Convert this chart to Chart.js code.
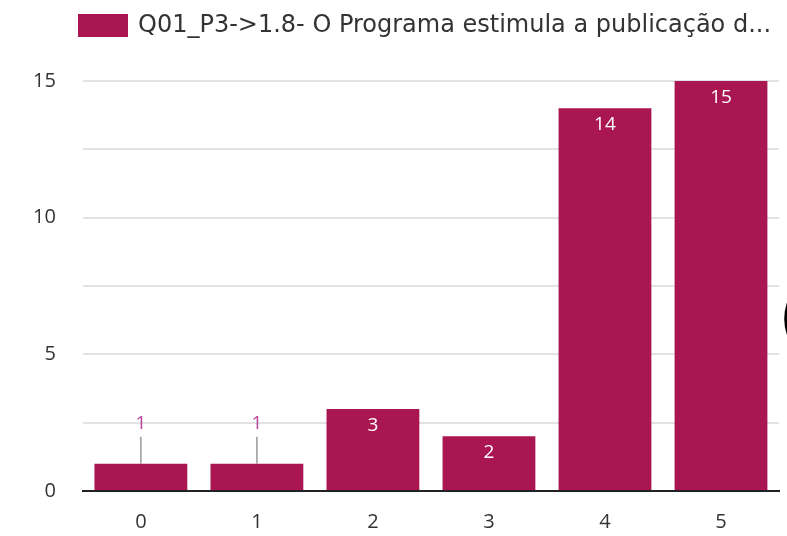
<!DOCTYPE html>
<html lang="pt">
<head>
<meta charset="UTF-8">
<title>Q01_P3 1.8</title>
<script src="https://cdn.jsdelivr.net/npm/chart.js"></script>
<style>
  html, body { margin: 0; padding: 0; background: #fff; overflow: hidden; }
  #wrap { position: relative; width: 787px; height: 536px; }
  #edge { position: absolute; left: 778px; top: 280px; font: 72px "DejaVu Sans"; color: #000; line-height: 1; }
</style>
</head>
<body>
<div id="wrap">
  <canvas id="chart" width="787" height="536"></canvas>
  <div id="edge">(</div>
</div>
<script>
// categories and values
const categories = ['0', '1', '2', '3', '4', '5'];
const counts = [1, 1, 3, 2, 14, 15];
const seriesLabel = 'Q01_P3->1.8- O Programa estimula a publicação d...';
const yTickLabels = [0, 5, 10, 15];

const barColor = '#AA1651';
const fontFamily = '"Open Sans", sans-serif';

// legend drawn at the left, lined up with the plot
const topLegend = {
  id: 'topLegend',
  afterDraw(chart) {
    const ctx = chart.ctx;
    const ds = chart.data.datasets[0];
    ctx.save();
    ctx.fillStyle = ds.backgroundColor;
    ctx.fillRect(78, 14, 50, 23);
    ctx.fillStyle = '#333';
    ctx.font = '24px "DejaVu Sans", sans-serif';
    ctx.textAlign = 'left';
    ctx.textBaseline = 'middle';
    ctx.fillText(ds.label, 138, 26);
    ctx.restore();
  }
};

// value labels: inside the bar when it is tall enough, above with a leader line otherwise
const valueLabels = {
  id: 'valueLabels',
  afterDatasetsDraw(chart) {
    const ctx = chart.ctx;
    const meta = chart.getDatasetMeta(0);
    ctx.save();
    ctx.font = '19px ' + fontFamily;
    ctx.textAlign = 'center';
    meta.data.forEach((bar, i) => {
      const v = counts[i];
      const h = bar.base - bar.y;
      if (h > 40) {
        ctx.fillStyle = '#fff';
        ctx.textBaseline = 'top';
        ctx.fillText(String(v), bar.x, bar.y + 7);
      } else {
        ctx.strokeStyle = '#999';
        ctx.lineWidth = 1.5;
        ctx.beginPath();
        ctx.moveTo(bar.x, bar.y);
        ctx.lineTo(bar.x, bar.y - 27);
        ctx.stroke();
        ctx.fillStyle = '#B8449C';
        ctx.textBaseline = 'bottom';
        ctx.fillText(String(v), bar.x, bar.y - 31);
      }
    });
    ctx.restore();
  }
};

new Chart(document.getElementById('chart'), {
  type: 'bar',
  data: {
    labels: categories,
    datasets: [{
      label: seriesLabel,
      data: counts,
      backgroundColor: barColor,
      borderWidth: 0,
      barPercentage: 0.8,
      categoryPercentage: 1.0
    }]
  },
  options: {
    responsive: false,
    animation: false,
    layout: { padding: { left: 6, right: 8, top: 81, bottom: -17 } },
    plugins: {
      tooltip: { enabled: false },
      legend: { display: false }
    },
    scales: {
      x: {
        grid: { display: false, drawTicks: false },
        border: { display: true, color: '#222', width: 2 },
        ticks: { color: '#333', padding: 19, font: { family: fontFamily, size: 20 } }
      },
      y: {
        min: 0,
        max: 15,
        grid: { color: '#e2e2e2', lineWidth: 2, drawTicks: false },
        border: { display: false },
        ticks: {
          stepSize: 2.5,
          color: '#333',
          padding: 27,
          font: { family: fontFamily, size: 20 },
          callback: v => yTickLabels.includes(v) ? String(v) : ''
        }
      }
    }
  },
  plugins: [valueLabels, topLegend]
});
</script>
</body>
</html>
